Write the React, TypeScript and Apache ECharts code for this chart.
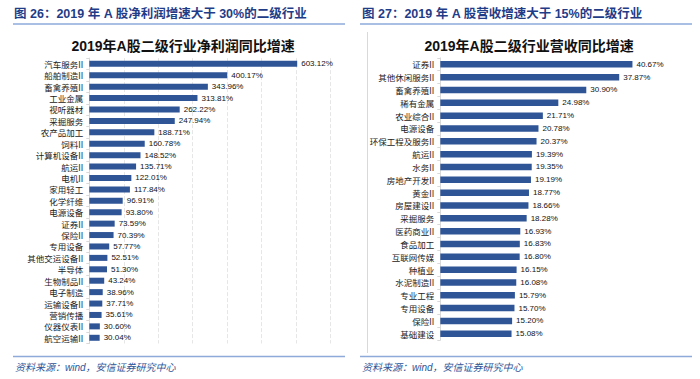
import React, { useEffect, useRef } from "react";
import * as echarts from "echarts";

const profitCategories = [
  "汽车服务II", "船舶制造II", "畜禽养殖II", "工业金属", "视听器材", "采掘服务",
  "农产品加工", "饲料II", "计算机设备II", "航运II", "电机II", "家用轻工",
  "化学纤维", "电源设备", "证券II", "保险II", "专用设备", "其他交运设备II",
  "半导体", "生物制品II", "电子制造", "运输设备II", "营销传播", "仪器仪表II", "航空运输II",
];
const profitValues = [
  603.12, 400.17, 343.96, 313.81, 262.22, 247.94, 188.71, 160.78, 148.52, 135.71,
  122.01, 117.84, 96.91, 93.8, 73.59, 70.39, 57.77, 52.51, 51.3, 43.24, 38.96,
  37.71, 35.61, 30.6, 30.04,
];

const revenueCategories = [
  "证券II", "其他休闲服务II", "畜禽养殖II", "稀有金属", "农业综合II", "电源设备",
  "环保工程及服务II", "航运II", "水务II", "房地产开发II", "黄金II", "房屋建设II",
  "采掘服务", "医药商业II", "食品加工", "互联网传媒", "种植业", "水泥制造II",
  "专业工程", "专用设备", "保险II", "基础建设",
];
const revenueValues = [
  40.67, 37.87, 30.9, 24.98, 21.71, 20.78, 20.37, 19.39, 19.35, 19.19, 18.77,
  18.66, 18.28, 16.93, 16.83, 16.8, 16.15, 16.08, 15.79, 15.7, 15.2, 15.08,
];

const headerLeft = "图 26：2019 年 A 股净利润增速大于 30%的二级行业";
const headerRight = "图 27：2019 年 A 股营收增速大于 15%的二级行业";
const titleLeft = "2019年A股二级行业净利润同比增速";
const titleRight = "2019年A股二级行业营收同比增速";
const sourceText = "资料来源：wind，安信证券研究中心";

const BAR = "#2F5597";
const CJK = "'Liberation Sans', 'Noto Sans CJK SC', sans-serif";

export default function App() {
  const ref = useRef<HTMLDivElement>(null);
  useEffect(() => {
    if (!ref.current) return;
    const chart = echarts.init(ref.current, null, { renderer: "svg" });
    const catAxis = (gridIndex: number, data: string[]) => ({
      type: "category",
      gridIndex,
      data,
      inverse: true,
      axisLine: { show: true, lineStyle: { color: "#d9d9d9", width: 1 } },
      axisTick: { show: true, length: 3, lineStyle: { color: "#d9d9d9" } },
      axisLabel: {
        fontSize: 8.5,
        color: "#222",
        margin: 6,
        fontFamily: "'Noto Sans CJK SC', sans-serif",
      },
    });
    const label = {
      show: true,
      position: "right",
      distance: 4,
      fontSize: 8,
      color: "#111",
      fontFamily: "'Liberation Sans', sans-serif",
      formatter: (p: any) => p.value.toFixed(2) + "%",
    };
    chart.setOption({
      animation: false,
      backgroundColor: "#fff",
      title: [
        {
          text: titleLeft,
          left: 178,
          top: 34,
          textAlign: "center",
          textStyle: { fontSize: 14, fontWeight: "bold", color: "#111", fontFamily: CJK },
        },
        {
          text: titleRight,
          left: 524,
          top: 34,
          textAlign: "center",
          textStyle: { fontSize: 14, fontWeight: "bold", color: "#111", fontFamily: CJK },
        },
      ],
      grid: [
        { left: 89.3, top: 58.1, width: 241.3, height: 285.4 },
        { left: 440.3, top: 57.9, width: 212.6, height: 282.3 },
      ],
      xAxis: [
        {
          type: "value",
          gridIndex: 0,
          min: 0,
          max: 700,
          interval: 100,
          axisLabel: { show: false },
          axisLine: { show: false },
          axisTick: { show: false },
          splitLine: { show: true, lineStyle: { color: "#e6e6e6", type: "dashed", width: 1 } },
        },
        {
          type: "value",
          gridIndex: 1,
          min: 0,
          max: 45,
          axisLabel: { show: false },
          axisLine: { show: false },
          axisTick: { show: false },
          splitLine: { show: false },
        },
      ],
      yAxis: [catAxis(0, profitCategories), catAxis(1, revenueCategories)],
      series: [
        {
          type: "bar",
          xAxisIndex: 0,
          yAxisIndex: 0,
          data: profitValues,
          barWidth: 6,
          itemStyle: { color: BAR },
          label,
        },
        {
          type: "bar",
          xAxisIndex: 1,
          yAxisIndex: 1,
          data: revenueValues,
          barWidth: 6.5,
          itemStyle: { color: BAR },
          label,
        },
      ],
      graphic: [
        {
          type: "text",
          x: 14,
          y: 14,
          style: {
            text: headerLeft,
            fill: "#1F3C88",
            font: "bold 12.5px 'Liberation Sans', 'Noto Sans CJK SC', sans-serif",
            verticalAlign: "middle",
          },
        },
        {
          type: "text",
          x: 362,
          y: 14,
          style: {
            text: headerRight,
            fill: "#1F3C88",
            font: "bold 12.5px 'Liberation Sans', 'Noto Sans CJK SC', sans-serif",
            verticalAlign: "middle",
          },
        },
        { type: "line", shape: { x1: 13, y1: 24, x2: 345, y2: 24 }, style: { stroke: "#8EAADB", lineWidth: 1.5 } },
        { type: "line", shape: { x1: 360, y1: 24, x2: 692, y2: 24 }, style: { stroke: "#8EAADB", lineWidth: 1.5 } },
        { type: "line", shape: { x1: 367.5, y1: 32, x2: 367.5, y2: 353 }, style: { stroke: "#d9d9d9", lineWidth: 1 } },
        { type: "line", shape: { x1: 13, y1: 356.5, x2: 345, y2: 356.5 }, style: { stroke: "#8EAADB", lineWidth: 1.5 } },
        { type: "line", shape: { x1: 360, y1: 356.5, x2: 692, y2: 356.5 }, style: { stroke: "#8EAADB", lineWidth: 1.5 } },
        {
          type: "text",
          x: 15,
          y: 367,
          style: {
            text: sourceText,
            fill: "#2F5597",
            font: "italic 10px 'Liberation Sans', 'Noto Sans CJK SC', sans-serif",
            verticalAlign: "middle",
          },
        },
        {
          type: "text",
          x: 362,
          y: 367,
          style: {
            text: sourceText,
            fill: "#2F5597",
            font: "italic 10px 'Liberation Sans', 'Noto Sans CJK SC', sans-serif",
            verticalAlign: "middle",
          },
        },
      ],
    });
    return () => chart.dispose();
  }, []);
  return (
    <div
      ref={ref}
      style={{ position: "fixed", left: 0, top: 0, width: 700, height: 379 }}
    />
  );
}
